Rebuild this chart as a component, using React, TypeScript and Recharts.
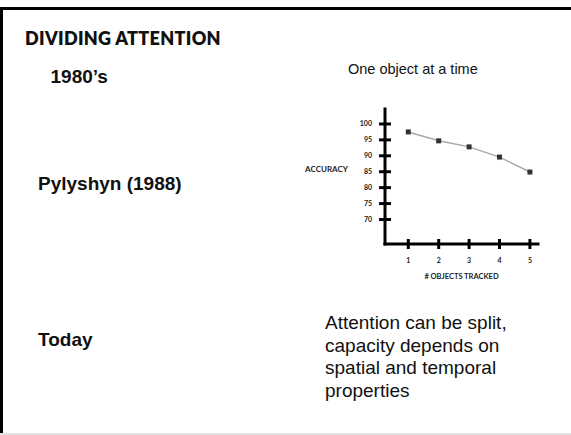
import { LineChart, Line, XAxis, YAxis, Label } from 'recharts';

// # objects tracked vs accuracy (Pylyshyn 1988)
const objectsTracked = [1, 2, 3, 4, 5];
const accuracy = [97.5, 94.7, 92.8, 89.6, 84.9];
const accuracyTicks = [70, 75, 80, 85, 90, 95, 100];

const data = objectsTracked.map((n, i) => ({ n, acc: accuracy[i] }));

const arial = '"Liberation Sans", Arial, sans-serif';
const small = 'Lato, "Open Sans", sans-serif';

function YTick(props: any) {
    const { x, y, payload } = props;
    return <g>
        <line x1={x - 6} x2={x + 6} y1={y} y2={y} stroke="#000" strokeWidth={3}/>
        <text x={x - 13} y={y} dy="0.35em" textAnchor="end" fontSize={7} fontFamily={small}
              fontWeight={700} fill="#222">{payload.value}</text>
    </g>
}

function XTick(props: any) {
    const { x, y, payload } = props;
    return <g>
        <line x1={x} x2={x} y1={y - 5} y2={y + 5} stroke="#000" strokeWidth={3}/>
        <text x={x} y={y + 18.5} textAnchor="middle" fontSize={7} fontFamily={small}
              fontWeight={700} fill="#222">{payload.value}</text>
    </g>
}

function SquareDot(props: any) {
    const { cx, cy, index } = props;
    return <rect key={index} x={cx - 2.5} y={cy - 2.5} width={5} height={5} fill="#333"/>
}

function AccuracyLabel(props: any) {
    const { viewBox } = props;
    return <text x={viewBox.x + viewBox.width - 58.5} y={viewBox.y + 60} dy="0.35em" textAnchor="middle"
                 fontSize={8} fontFamily={small} fontWeight={700} fill="#222">ACCURACY</text>
}

function Chart() {
    return <LineChart width={260} height={200} data={data}
                      margin={{ top: 19, right: 22, bottom: 45, left: 84 }}>
        <XAxis dataKey="n" type="number" domain={[0.234, 5.266]} ticks={objectsTracked} interval={0}
               allowDataOverflow height={1} tickSize={0} tickMargin={0} tick={<XTick/>}
               axisLine={{ stroke: '#000', strokeWidth: 3, strokeLinecap: 'square' }}>
            <Label value="# OBJECTS TRACKED" position="bottom" offset={29} fontSize={7.5}
                   fontFamily={small} fontWeight={700} fill="#222"/>
        </XAxis>
        <YAxis type="number" domain={[62.3, 104.7]} ticks={accuracyTicks} interval={0} allowDataOverflow
               width={1} tickSize={0} tickMargin={0} tick={<YTick/>}
               axisLine={{ stroke: '#000', strokeWidth: 3, strokeLinecap: 'square' }}>
            <Label content={<AccuracyLabel/>}/>
        </YAxis>
        <Line dataKey="acc" stroke="#a8a8a8" strokeWidth={1.5} dot={<SquareDot/>} activeDot={false}
              isAnimationActive={false}/>
    </LineChart>
}

export default function App() {
    const abs = (left: number, top: number): React.CSSProperties => ({ position: 'absolute', left, top });
    return <div style={{ position: 'absolute', left: 0, top: 0, width: 571, height: 435, background: '#fff',
                         overflow: 'hidden', fontFamily: arial, color: '#111' }}>
        <div style={{ position: 'absolute', left: 0, right: 0, top: 7, height: 3, background: '#000' }}/>
        <div style={{ position: 'absolute', left: 0, top: 7, width: 3, height: 427, background: '#000' }}/>
        <div style={{ position: 'absolute', left: 0, right: 0, top: 433, height: 2, background: '#e2e2e2' }}/>

        <div style={{ ...abs(25, 29), fontFamily: small, fontWeight: 800, fontSize: 18, lineHeight: 1,
                      letterSpacing: 0.3, whiteSpace: 'nowrap' }}>DIVIDING ATTENTION</div>
        <div style={{ ...abs(50.5, 66.6), fontWeight: 700, fontSize: 19, lineHeight: 1 }}>1980’s</div>
        <div style={{ ...abs(38, 173.9), fontWeight: 700, fontSize: 19, lineHeight: 1,
                      whiteSpace: 'nowrap' }}>Pylyshyn (1988)</div>
        <div style={{ ...abs(38, 330), fontWeight: 700, fontSize: 19, lineHeight: 1 }}>Today</div>
        <div style={{ ...abs(348, 61.7), fontSize: 14.5, lineHeight: 1, whiteSpace: 'nowrap' }}>
            One object at a time
        </div>
        <div style={{ ...abs(325, 312.2), fontSize: 19, lineHeight: '22.5px', width: 200 }}>
            Attention can be split,<br/>capacity depends on<br/>spatial and temporal<br/>properties
        </div>

        <div style={abs(300, 90)}>
            <Chart/>
        </div>
    </div>
}
